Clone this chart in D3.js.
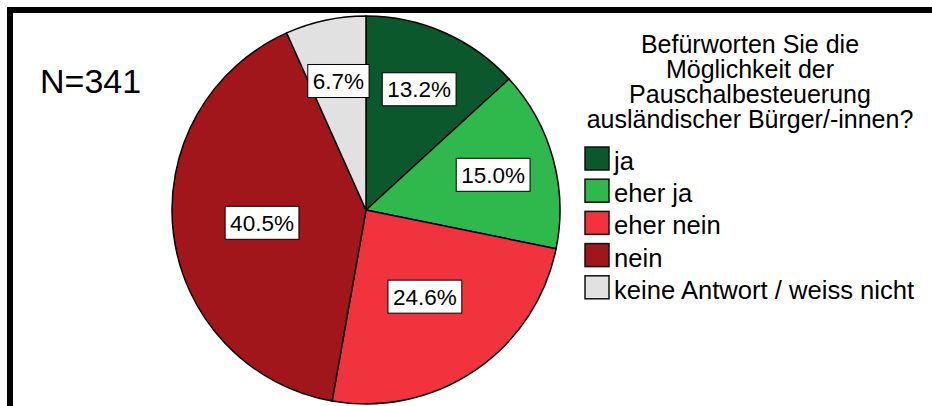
<!DOCTYPE html>
<html>
<head>
<meta charset="utf-8">
<script src="https://cdn.jsdelivr.net/npm/d3@7"></script>
<style>
  body { margin: 0; background: #fff; }
  svg { display: block; font-family: "Liberation Sans", Arial, sans-serif; }
</style>
</head>
<body>
<svg id="pie_chart" width="932" height="406"></svg>
<script>
// survey answers, in pie order (clockwise from 12 o'clock)
const categories = ["ja", "eher ja", "eher nein", "nein", "keine Antwort / weiss nicht"];
const percents = [13.2, 15.0, 24.6, 40.5, 6.7];
const colors = ["#0c582d", "#2fb84c", "#f0333c", "#a1161b", "#e1e1e1"];
const titleLines = ["Befürworten Sie die", "Möglichkeit der", "Pauschalbesteuerung", "ausländischer Bürger/-innen?"];
const sampleLabel = "N=341";

const svg = d3.select('#pie_chart');
const width = +svg.attr('width');
const height = +svg.attr('height');

const cx = 366, cy = 210, radius = 194;

// frame: top and left edges only
svg.append('line')
    .attr('x1', 7).attr('x2', width)
    .attr('y1', 10).attr('y2', 10)
    .style('stroke', '#000').style('stroke-width', 6);
svg.append('line')
    .attr('x1', 10).attr('x2', 10)
    .attr('y1', 7).attr('y2', height)
    .style('stroke', '#000').style('stroke-width', 6);

svg.append('text')
    .attr('x', 40)
    .attr('y', 93)
    .style('font-size', '34px')
    .text(sampleLabel);

const color = d3.scaleOrdinal().domain(categories).range(colors);

const pie = d3.pie().sort(null).value(d => d.value);
const arcs = pie(categories.map((c, i) => ({ key: c, value: percents[i] })));

const arc = d3.arc().innerRadius(0).outerRadius(radius);

const g = svg.append('g')
    .attr('transform', `translate(${cx},${cy})`);

g.selectAll('path')
    .data(arcs)
    .enter()
    .append('path')
    .attr('d', arc)
    .style('fill', d => color(d.data.key))
    .style('stroke', '#000')
    .style('stroke-width', 1.5)
    .style('stroke-linejoin', 'round');

// labels sit further out in narrow slices
function labelPos(d) {
    const r = (d.endAngle - d.startAngle) < 1 ? radius * 0.68 : radius * 0.54;
    const a = (d.startAngle + d.endAngle) / 2;
    return [Math.sin(a) * r, -Math.cos(a) * r];
}

const labels = g.selectAll('g.label')
    .data(arcs)
    .enter()
    .append('g')
    .attr('class', 'label')
    .attr('transform', d => `translate(${labelPos(d)})`);

labels.append('text')
    .attr('text-anchor', 'middle')
    .attr('dy', '0.36em')
    .style('font-size', '22.5px')
    .text(d => d.data.value.toFixed(1) + '%');

labels.each(function() {
    const t = d3.select(this).select('text');
    const bb = t.node().getBBox();
    d3.select(this).insert('rect', 'text')
        .attr('x', bb.x - 5)
        .attr('y', -16.5)
        .attr('width', bb.width + 10)
        .attr('height', 33)
        .style('fill', '#fff')
        .style('stroke', '#000')
        .style('stroke-width', 1);
});

// legend
const legend = svg.append('g');

legend.selectAll('text.title')
    .data(titleLines)
    .enter()
    .append('text')
    .attr('class', 'title')
    .attr('x', 750)
    .attr('y', (d, i) => 53 + i * 25)
    .attr('text-anchor', 'middle')
    .style('font-size', '25px')
    .text(d => d);

const item = legend.selectAll('g.item')
    .data(categories)
    .enter()
    .append('g')
    .attr('class', 'item')
    .attr('transform', (d, i) => `translate(585,${147 + i * 32.2})`);

item.append('rect')
    .attr('width', 24)
    .attr('height', 23)
    .style('fill', d => color(d))
    .style('stroke', '#111')
    .style('stroke-width', 1.5);

item.append('text')
    .attr('x', 29)
    .attr('y', 23)
    .style('font-size', '25.6px')
    .text(d => d);
</script>
</body>
</html>
